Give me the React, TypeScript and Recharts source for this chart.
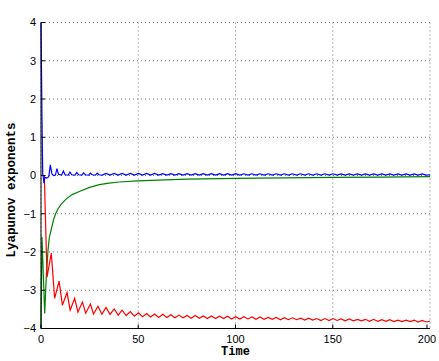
import { CartesianGrid, Label, Line, LineChart, XAxis, YAxis } from "recharts";

const xTicks = [0, 50, 100, 150, 200];
const yTicks = [-4, -3, -2, -1, 0, 1, 2, 3, 4];

// early transient, read point by point
const blueEarlyTime = [0, 0.5, 0.9, 1.2, 1.5, 2, 3, 4, 4.8, 5.6, 6.5, 7.4, 8.2, 9, 10.6, 11.5, 12.4, 14, 14.9, 15.8, 17.5, 18.4, 19.3, 21, 21.9, 22.8, 24.5, 25.4, 26.3, 28, 28.9, 29.8, 31.5];
const blueEarly = [4, 1.5, 0.02, -0.05, -0.2, -0.05, -0.07, -0.03, 0.28, 0.04, 0, 0.01, 0.18, 0.03, 0.01, 0.12, 0.02, 0.01, 0.09, 0.02, 0.01, 0.08, 0.02, 0.01, 0.07, 0.02, 0.01, 0.06, 0.02, 0.01, 0.06, 0.02, 0.01];

const redEarlyTime = [0, 1.7, 3.1, 5.3, 7, 9.3, 11, 13.4, 15, 17.3, 19, 21.3, 23, 25.4, 27, 29.3, 31.3];
const redEarly = [0, 0, -2.66, -2.03, -3.21, -2.76, -3.39, -3.06, -3.52, -3.21, -3.57, -3.31, -3.6, -3.36, -3.62, -3.42, -3.63];

const greenTime = [0, 0.5, 1.9, 2.7, 3.6, 4.3, 5.3, 6.5, 7.5, 8.8, 10.5, 13, 16, 20, 25, 30, 35, 40, 50, 60, 75, 100, 125, 150, 175, 200];
const greenValue = [-4, -1.6, -3.61, -2.65, -1.95, -1.62, -1.4, -1.15, -1.0, -0.87, -0.74, -0.61, -0.5, -0.41, -0.31, -0.24, -0.2, -0.17, -0.14, -0.12, -0.095, -0.075, -0.06, -0.05, -0.04, -0.03];

// steady oscillation, peaks and troughs
const lateTime = [
  33.4, 35.5, 37.6, 39.7, 41.7, 43.8, 45.9, 48.0, 50.1, 52.2,
  54.3, 56.3, 58.4, 60.5, 62.6, 64.7, 66.8, 68.8, 70.9, 73.0,
  75.1, 77.2, 79.3, 81.4, 83.4, 85.5, 87.6, 89.7, 91.8, 93.9,
  95.9, 98.0, 100.1, 102.2, 104.3, 106.4, 108.5, 110.5, 112.6, 114.7,
  116.8, 118.9, 121.0, 123.1, 125.1, 127.2, 129.3, 131.4, 133.5, 135.6,
  137.6, 139.7, 141.8, 143.9, 146.0, 148.1, 150.2, 152.2, 154.3, 156.4,
  158.5, 160.6, 162.7, 164.8, 166.8, 168.9, 171.0, 173.1, 175.2, 177.3,
  179.3, 181.4, 183.5, 185.6, 187.7, 189.8, 191.9, 193.9, 196.0, 198.1,
  200,
];
const redLate = [
  -3.45, -3.63, -3.49, -3.65, -3.52, -3.66, -3.56, -3.68, -3.59, -3.69,
  -3.61, -3.7, -3.62, -3.71, -3.63, -3.71, -3.64, -3.72, -3.65, -3.72,
  -3.66, -3.73, -3.66, -3.73, -3.67, -3.74, -3.67, -3.74, -3.68, -3.74,
  -3.68, -3.75, -3.69, -3.75, -3.69, -3.75, -3.7, -3.76, -3.7, -3.76,
  -3.71, -3.76, -3.71, -3.77, -3.72, -3.77, -3.72, -3.77, -3.73, -3.78,
  -3.73, -3.78, -3.74, -3.79, -3.74, -3.79, -3.74, -3.79, -3.75, -3.8,
  -3.75, -3.8, -3.76, -3.8, -3.76, -3.81, -3.76, -3.81, -3.77, -3.81,
  -3.77, -3.82, -3.78, -3.82, -3.78, -3.82, -3.78, -3.83, -3.79, -3.83,
  -3.81,
];
const blueLate = [
  0.055, 0.01, 0.055, 0.01, 0.055, 0.01, 0.055, 0.01, 0.055, 0.01,
  0.055, 0.01, 0.055, 0.01, 0.05, 0.01, 0.05, 0.01, 0.05, 0.01,
  0.05, 0.01, 0.05, 0.01, 0.05, 0.01, 0.05, 0.01, 0.05, 0.01,
  0.05, 0.01, 0.05, 0.01, 0.045, 0.01, 0.045, 0.01, 0.045, 0.01,
  0.045, 0.01, 0.045, 0.01, 0.045, 0.01, 0.045, 0.01, 0.045, 0.01,
  0.045, 0.01, 0.045, 0.01, 0.045, 0.01, 0.045, 0.01, 0.04, 0.01,
  0.04, 0.01, 0.04, 0.01, 0.04, 0.01, 0.04, 0.01, 0.04, 0.01,
  0.04, 0.01, 0.04, 0.01, 0.04, 0.01, 0.04, 0.01, 0.04, 0.01,
  0.02,
];

const toPoints = (ts: number[], vs: number[]) => ts.map((t, i) => ({ t, v: vs[i] }));
const blueData = toPoints([...blueEarlyTime, ...lateTime], [...blueEarly, ...blueLate]);
const redData = toPoints([...redEarlyTime, ...lateTime], [...redEarly, ...redLate]);
const greenData = toPoints(greenTime, greenValue);

const fmt = (v: number) => (v < 0 ? `\u2212${-v}` : `${v}`);
const SANS = "'Liberation Sans', Arial, sans-serif";
const MONO = "'Liberation Mono', 'Courier New', monospace";

function BottomTick({ x, y, payload }: any) {
  return (
    <g>
      <line x1={x} x2={x} y1={y} y2={y - 4} stroke="#000" />
      <text x={x} y={y + 14.5} textAnchor="middle" fontFamily={SANS} fontSize={11} fill="#000">
        {fmt(payload.value)}
      </text>
    </g>
  );
}

function LeftTick({ x, y, payload }: any) {
  return (
    <g>
      <line x1={x} x2={x + 4} y1={y} y2={y} stroke="#000" />
      <text x={x - 5} y={y} dy="0.36em" textAnchor="end" fontFamily={SANS} fontSize={11} fill="#000">
        {fmt(payload.value)}
      </text>
    </g>
  );
}

const TopTick = ({ x, y }: any) => <line x1={x} x2={x} y1={y} y2={y + 4} stroke="#000" />;
const RightTick = ({ x, y }: any) => <line x1={x} x2={x - 4} y1={y} y2={y} stroke="#000" />;

export default function App() {
  return (
    <div style={{ position: "absolute", left: 0, top: 0, background: "#fff" }}>
      <LineChart width={439} height={361} margin={{ top: 22.5, right: 9, bottom: 0, left: 0 }}>
        <CartesianGrid stroke="#777" strokeDasharray="1 3" />
        <XAxis
          dataKey="t"
          type="number"
          domain={[0, 200]}
          ticks={xTicks}
          height={32.5}
          tickSize={0}
          tickMargin={0}
          tick={<BottomTick />}
          axisLine={{ stroke: "#000" }}
          allowDuplicatedCategory={false}
        >
          <Label
            position="insideBottom"
            offset={6}
            value="Time"
            fontFamily={MONO}
            fontWeight="bold"
            fontSize={12}
            fill="#000"
          />
        </XAxis>
        <XAxis
          xAxisId="top"
          orientation="top"
          type="number"
          domain={[0, 200]}
          ticks={xTicks}
          height={0}
          tickSize={0}
          tickMargin={0}
          tick={<TopTick />}
          axisLine={{ stroke: "#000" }}
        >
          <Label
            position="top"
            offset={9}
            value="Dynamics of Lyapunov exponents"
            fontFamily={MONO}
            fontWeight="bold"
            fontSize={12}
            fill="#000"
          />
        </XAxis>
        <YAxis
          type="number"
          domain={[-4, 4]}
          ticks={yTicks}
          width={41}
          tickSize={0}
          tickMargin={0}
          tick={<LeftTick />}
          axisLine={{ stroke: "#000" }}
        >
          <Label
            content={() => (
              <text
                x={14.5}
                y={190}
                transform="rotate(-90 14.5 190)"
                textAnchor="middle"
                fontFamily={MONO}
                fontWeight="bold"
                fontSize={12.5}
                fill="#000"
              >
                Lyapunov exponents
              </text>
            )}
          />
        </YAxis>
        <YAxis
          yAxisId="right"
          orientation="right"
          type="number"
          domain={[-4, 4]}
          ticks={yTicks}
          width={0}
          tickSize={0}
          tickMargin={0}
          tick={<RightTick />}
          axisLine={{ stroke: "#000" }}
        />
        <Line data={greenData} dataKey="v" stroke="#008000" strokeWidth={1.2} dot={false} isAnimationActive={false} />
        <Line data={redData} dataKey="v" stroke="#ff0000" strokeWidth={1.2} dot={false} isAnimationActive={false} />
        <Line data={blueData} dataKey="v" stroke="#0000ff" strokeWidth={1.2} dot={false} isAnimationActive={false} />
      </LineChart>
    </div>
  );
}
